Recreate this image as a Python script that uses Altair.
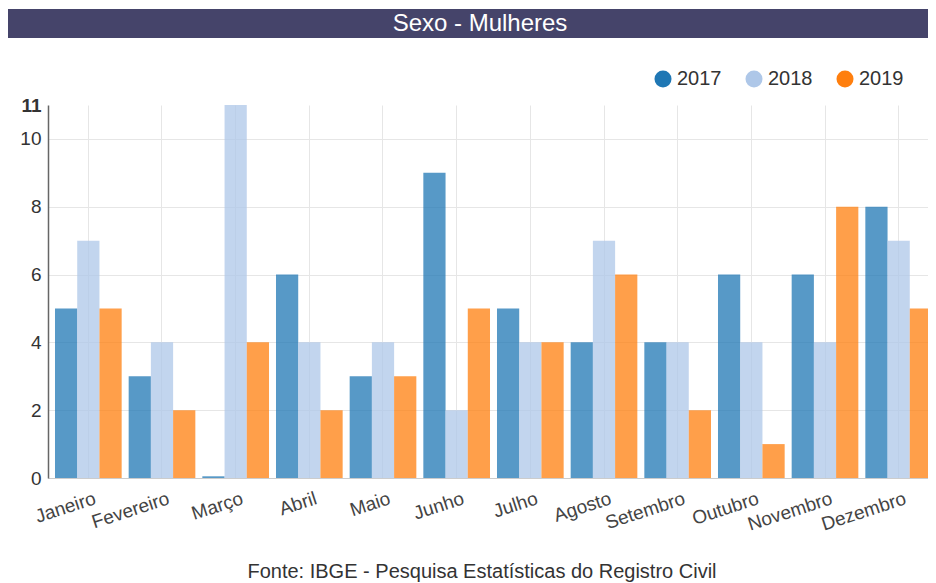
import altair as alt
import pandas as pd

months = ["Janeiro", "Fevereiro", "Março", "Abril", "Maio", "Junho", "Julho",
          "Agosto", "Setembro", "Outubro", "Novembro", "Dezembro"]
years = ["2017", "2018", "2019"]
v2017 = [5, 3, 0.05, 6, 3, 9, 5, 4, 4, 6, 6, 8]
v2018 = [7, 4, 11, 4, 4, 2, 4, 7, 4, 4, 4, 7]
v2019 = [5, 2, 4, 2, 3, 5, 4, 6, 2, 1, 8, 5]
colors = ["#1f77b4", "#aec7e8", "#ff7f0e"]
title_text = "Sexo - Mulheres"
footer_text = "Fonte: IBGE - Pesquisa Estatísticas do Registro Civil"

rows = []
for y, vals in zip(years, [v2017, v2018, v2019]):
    for m, v in zip(months, vals):
        rows.append({"Mês": m, "Ano": y, "Valor": v})
df = pd.DataFrame(rows)

W, H = 880, 373
FONT = "Liberation Sans"

bars = alt.Chart(df).mark_bar(opacity=0.75).encode(
    x=alt.X("Mês:N", sort=months,
            scale=alt.Scale(paddingInner=0.095, paddingOuter=0.095, range=[0, 891]),
            axis=alt.Axis(title=None, labelAngle=-18, labelAlign="right",
                          labelBaseline="top", labelFontSize=19,
                          labelFont=FONT, labelColor="#444444",
                          labelPadding=11, labelOffset=4, ticks=False, grid=True,
                          gridColor="#e6e6e6", bandPosition=0.5,
                          domainColor="#cccccc", labelOverlap=False)),
    xOffset=alt.XOffset("Ano:N", sort=years, scale=alt.Scale(paddingInner=0)),
    y=alt.Y("Valor:Q", scale=alt.Scale(domain=[0, 11], nice=False),
            axis=alt.Axis(title=None, values=[0, 2, 4, 6, 8, 10, 11],
                          labelFontSize=19, labelFont=FONT,
                          labelColor="#333333", ticks=False, labelPadding=7,
                          domainColor="#666666", domainWidth=1.5,
                          gridColor="#e6e6e6",
                          gridOpacity={"condition": {"test": "datum.value == 11 || datum.value == 0", "value": 0}, "value": 1},
                          labelFontWeight={"condition": {"test": "datum.value == 11", "value": "bold"}, "value": "normal"})),
    color=alt.Color("Ano:N", sort=years,
                    scale=alt.Scale(domain=years, range=colors),
                    legend=alt.Legend(title=None, orient="none", direction="horizontal",
                                      legendX=605, legendY=-36, symbolType="circle",
                                      symbolSize=290, symbolOpacity=1,
                                      labelFontSize=20, labelFont=FONT,
                                      labelColor="#333333", columnPadding=22,
                                      symbolStrokeWidth=0, labelOffset=4)),
)

one = pd.DataFrame({"t": [title_text]})
bar_bg = alt.Chart(one).mark_rect(color="#45446a").encode(
    x=alt.value(-40), x2=alt.value(W), y=alt.value(-96), y2=alt.value(-67))
bar_txt = alt.Chart(one).mark_text(color="white", fontSize=24, font=FONT,
                                   baseline="middle", align="center").encode(
    x=alt.value(432), y=alt.value(-81), text="t:N")
foot = alt.Chart(pd.DataFrame({"t": [footer_text]})).mark_text(
    color="#333333", fontSize=20, font=FONT, baseline="middle",
    align="center").encode(x=alt.value(434), y=alt.value(H + 94), text="t:N")

chart = alt.layer(bar_bg, bar_txt, bars, foot).properties(
    width=W, height=H,
    autosize=alt.AutoSizeParams(type="none"),
    padding={"left": 40, "top": 97, "right": 0, "bottom": 105},
).configure_view(stroke=None)

chart.save("out.html", embed_options={"renderer": "svg", "actions": False})
